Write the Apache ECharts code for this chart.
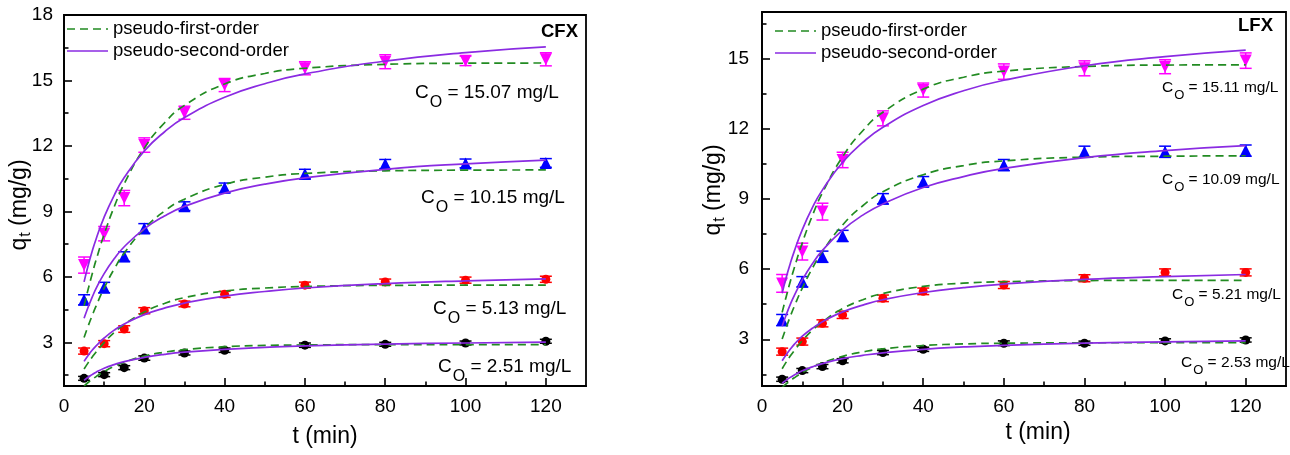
<!DOCTYPE html>
<html>
<head>
<meta charset="utf-8">
<title>Adsorption kinetics of CFX and LFX</title>
<script src="https://cdn.jsdelivr.net/npm/echarts@6/dist/echarts.min.js"></script>
<style>
  html, body { margin: 0; padding: 0; background: #fff; }
  #chart { width: 1290px; height: 455px; }
</style>
</head>
<body>
<div id="chart"></div>
<script>
// ---- sampling times (min) ----
const tExp = [5, 10, 15, 20, 30, 40, 60, 80, 100, 120];
const tFit = [5, 6, 7, 8, 10, 12.5, 15, 20, 25, 30, 40, 50, 60, 80, 100, 120];

// ---- tick labels ----
const xMajor = [0, 20, 40, 60, 80, 100, 120];
const xMinor = [10, 30, 50, 70, 90, 110];
const yMajorCFX = [3, 6, 9, 12, 15, 18];
const yMinorCFX = [1.5, 4.5, 7.5, 10.5, 13.5, 16.5];
const yMajorLFX = [3, 6, 9, 12, 15];
const yMinorLFX = [1.5, 4.5, 7.5, 10.5, 13.5, 16.5];

// ---- CFX measured q_t (mg/g) and standard deviations ----
const cfx1507 = [6.54, 7.98, 9.61, 12.04, 13.52, 14.79, 15.56, 15.86, 15.90, 15.97];
const cfx1507Err = [0.37, 0.33, 0.35, 0.33, 0.30, 0.30, 0.30, 0.32, 0.22, 0.30];
const cfx1015 = [4.95, 5.51, 6.93, 8.22, 9.24, 10.08, 10.71, 11.17, 11.20, 11.22];
const cfx1015Err = [0.23, 0.24, 0.22, 0.22, 0.20, 0.22, 0.22, 0.21, 0.20, 0.20];
const cfx513 = [2.60, 2.94, 3.61, 4.45, 4.76, 5.20, 5.62, 5.77, 5.85, 5.89];
const cfx513Err = [0.14, 0.14, 0.15, 0.14, 0.13, 0.14, 0.14, 0.13, 0.14, 0.14];
const cfx251 = [1.35, 1.52, 1.84, 2.28, 2.51, 2.64, 2.87, 2.91, 2.97, 3.05];
const cfx251Err = [0.09, 0.09, 0.09, 0.10, 0.09, 0.10, 0.10, 0.09, 0.09, 0.09];

// ---- CFX fitted curves ----
const cfx1507PFO = [4.67, 5.42, 6.12, 6.78, 7.95, 9.21, 10.27, 11.90, 13.05, 13.86, 14.84, 15.32, 15.56, 15.74, 15.79, 15.80];
const cfx1507PSO = [5.77, 6.51, 7.16, 7.74, 8.74, 9.74, 10.55, 11.77, 12.64, 13.30, 14.23, 14.85, 15.30, 15.89, 16.28, 16.54];
const cfx1015PFO = [3.22, 3.74, 4.22, 4.67, 5.49, 6.36, 7.09, 8.21, 9.01, 9.56, 10.24, 10.57, 10.74, 10.86, 10.89, 10.90];
const cfx1015PSO = [4.10, 4.61, 5.06, 5.47, 6.15, 6.83, 7.38, 8.20, 8.79, 9.23, 9.84, 10.25, 10.54, 10.93, 11.18, 11.35];
const cfx513PFO = [1.78, 2.06, 2.32, 2.56, 2.99, 3.45, 3.82, 4.39, 4.78, 5.05, 5.35, 5.49, 5.56, 5.61, 5.62, 5.62];
const cfx513PSO = [2.13, 2.40, 2.64, 2.84, 3.20, 3.56, 3.84, 4.27, 4.57, 4.80, 5.12, 5.33, 5.49, 5.69, 5.82, 5.91];
const cfx251PFO = [1.00, 1.16, 1.30, 1.43, 1.66, 1.90, 2.09, 2.37, 2.55, 2.67, 2.80, 2.86, 2.88, 2.90, 2.90, 2.90];
const cfx251PSO = [1.26, 1.40, 1.52, 1.63, 1.81, 1.98, 2.12, 2.31, 2.45, 2.55, 2.68, 2.77, 2.84, 2.92, 2.97, 3.01];

// ---- LFX measured q_t (mg/g) and standard deviations ----
const lfx1511 = [5.39, 6.75, 8.46, 10.67, 12.45, 13.66, 14.45, 14.59, 14.66, 14.92];
const lfx1511Err = [0.38, 0.36, 0.36, 0.33, 0.32, 0.30, 0.33, 0.32, 0.30, 0.33];
const lfx1009 = [3.82, 5.46, 6.53, 7.42, 9.01, 9.74, 10.45, 11.02, 11.02, 11.07];
const lfx1009Err = [0.24, 0.22, 0.24, 0.24, 0.22, 0.22, 0.24, 0.24, 0.24, 0.24];
const lfx521 = [2.47, 2.90, 3.68, 4.04, 4.75, 5.05, 5.32, 5.61, 5.86, 5.86];
const lfx521Err = [0.15, 0.15, 0.15, 0.15, 0.14, 0.14, 0.15, 0.15, 0.15, 0.15];
const lfx253 = [1.29, 1.66, 1.83, 2.08, 2.43, 2.57, 2.83, 2.83, 2.93, 2.97];
const lfx253Err = [0.09, 0.09, 0.09, 0.09, 0.09, 0.09, 0.10, 0.09, 0.09, 0.09];

// ---- LFX fitted curves ----
const lfx1511PFO = [4.15, 4.82, 5.46, 6.05, 7.13, 8.29, 9.27, 10.81, 11.92, 12.71, 13.70, 14.21, 14.47, 14.67, 14.73, 14.74];
const lfx1511PSO = [4.97, 5.64, 6.23, 6.76, 7.69, 8.63, 9.39, 10.57, 11.42, 12.07, 13.00, 13.63, 14.08, 14.70, 15.09, 15.37];
const lfx1009PFO = [3.01, 3.50, 3.97, 4.40, 5.19, 6.04, 6.76, 7.89, 8.71, 9.31, 10.04, 10.43, 10.63, 10.79, 10.83, 10.85];
const lfx1009PSO = [3.56, 4.04, 4.48, 4.87, 5.54, 6.23, 6.80, 7.67, 8.31, 8.79, 9.49, 9.96, 10.31, 10.77, 11.07, 11.28];
const lfx521PFO = [1.74, 2.02, 2.28, 2.51, 2.94, 3.39, 3.75, 4.31, 4.69, 4.96, 5.26, 5.40, 5.46, 5.51, 5.52, 5.52];
const lfx521PSO = [2.08, 2.34, 2.57, 2.78, 3.13, 3.47, 3.75, 4.17, 4.46, 4.69, 5.00, 5.21, 5.36, 5.56, 5.68, 5.77];
const lfx253PFO = [0.94, 1.09, 1.22, 1.35, 1.57, 1.80, 1.99, 2.27, 2.46, 2.59, 2.73, 2.80, 2.83, 2.85, 2.85, 2.85];
const lfx253PSO = [1.12, 1.25, 1.37, 1.47, 1.65, 1.82, 1.96, 2.17, 2.31, 2.42, 2.57, 2.67, 2.74, 2.83, 2.89, 2.93];

// ---- text ----
const PFO = 'pseudo-first-order';
const PSO = 'pseudo-second-order';
const FONT = '"Liberation Sans", Arial, Helvetica, sans-serif';
const COL_PFO = '#228b22';
const COL_PSO = '#8a2be2';
const DASH = [8, 5];
const COL = { mag: '#ff00ff', blue: '#0000ff', red: '#ff0000', black: '#000000' };

const chart = echarts.init(document.getElementById('chart'), null, { renderer: 'canvas' });

function xAxes(grid) {
  const base = {
    gridIndex: grid, type: 'value', min: 0, max: 130, position: 'bottom',
    splitLine: { show: false }
  };
  return [
    Object.assign({}, base, {
      axisLine: { onZero: false, lineStyle: { color: '#000', width: 1.8 } },
      axisTick: { inside: true, length: 8, customValues: xMajor, lineStyle: { color: '#000', width: 1.6 } },
      axisLabel: { customValues: xMajor, color: '#000', fontSize: 19, fontFamily: FONT, margin: 11 }
    }),
    Object.assign({}, base, {
      axisLine: { show: false, onZero: false },
      axisTick: { inside: true, length: 4.5, customValues: xMinor, lineStyle: { color: '#000', width: 1.6 } },
      axisLabel: { show: false }
    })
  ];
}

function yAxes(grid, max, major, minor, margin) {
  const base = {
    gridIndex: grid, type: 'value', min: 1, max: max, position: 'left',
    splitLine: { show: false }
  };
  return [
    Object.assign({}, base, {
      axisLine: { onZero: false, lineStyle: { color: '#000', width: 1.8 } },
      axisTick: { inside: true, length: 8, customValues: major, lineStyle: { color: '#000', width: 1.6 } },
      axisLabel: { customValues: major, color: '#000', fontSize: 19, fontFamily: FONT, margin: margin }
    }),
    Object.assign({}, base, {
      axisLine: { show: false, onZero: false },
      axisTick: { inside: true, length: 4.5, customValues: minor, lineStyle: { color: '#000', width: 1.6 } },
      axisLabel: { show: false }
    })
  ];
}

function fit(name, vals, axis, color, dashed) {
  return {
    type: 'line', name: name, xAxisIndex: axis, yAxisIndex: axis,
    data: tFit.map((t, i) => [t, vals[i]]),
    smooth: true, symbol: 'none', clip: true, z: 5,
    lineStyle: { color: color, width: 1.7, type: dashed ? DASH : 'solid' },
    itemStyle: { color: color }
  };
}

function errorBars(vals, errs, axis, color) {
  return {
    type: 'custom', xAxisIndex: axis, yAxisIndex: axis, z: 3, silent: true,
    data: tExp.map((t, i) => [t, vals[i], errs[i]]),
    encode: { x: 0, y: 1 },
    renderItem: function (params, api) {
      const x = api.value(0), y = api.value(1), e = api.value(2);
      const hi = api.coord([x, y + e]);
      const lo = api.coord([x, y - e]);
      const w = 6;
      const st = { stroke: color, lineWidth: 1.5 };
      return {
        type: 'group',
        children: [
          { type: 'line', shape: { x1: hi[0], y1: hi[1], x2: lo[0], y2: lo[1] }, style: st },
          { type: 'line', shape: { x1: hi[0] - w, y1: hi[1], x2: hi[0] + w, y2: hi[1] }, style: st },
          { type: 'line', shape: { x1: lo[0] - w, y1: lo[1], x2: lo[0] + w, y2: lo[1] }, style: st }
        ]
      };
    }
  };
}

function points(vals, axis, color, symbol, rotate, size) {
  return {
    type: 'scatter', xAxisIndex: axis, yAxisIndex: axis, z: 4, silent: true,
    data: tExp.map((t, i) => [t, vals[i]]),
    symbol: symbol, symbolRotate: rotate, symbolSize: size,
    itemStyle: { color: color, opacity: 1 }
  };
}

function dataset(vals, errs, axis, color, symbol, rotate, size) {
  return [errorBars(vals, errs, axis, color), points(vals, axis, color, symbol, rotate, size)];
}

// legend drawn as two line samples with their captions
function legendBlock(x, y) {
  const row = (dy, color, dash, label) => [
    { type: 'line', z: 10, shape: { x1: x, y1: y + dy, x2: x + 41, y2: y + dy },
      style: { stroke: color, lineWidth: 1.7, lineDash: dash } },
    { type: 'text', z: 10, x: x + 46, y: y + dy,
      style: { text: label, fontSize: 18.5, fontFamily: FONT, fill: '#000', align: 'left', verticalAlign: 'middle' } }
  ];
  return [].concat(row(0, COL_PFO, DASH, PFO), row(22, COL_PSO, null, PSO));
}

// concentration labels with subscript "o"
function conc(x, y, value, big, small, drop) {
  return {
    type: 'text', x: x, y: y, z: 10,
    style: {
      text: '{c|C}{s|O}{c| = ' + value + ' mg/L}',
      verticalAlign: 'middle', align: 'left',
      rich: {
        c: { fontSize: big, fontFamily: FONT, fill: '#000', lineHeight: big + 2 },
        s: { fontSize: small, fontFamily: FONT, fill: '#000', padding: [drop, 0, 0, 1] }
      }
    }
  };
}

function yTitle(x, y) {
  return {
    type: 'text', x: x, y: y, rotation: Math.PI / 2, z: 10,
    style: {
      text: '{q|q}{s|t}{q| (mg/g)}',
      align: 'center', verticalAlign: 'middle',
      rich: {
        q: { fontSize: 23, fontFamily: FONT, fill: '#000', lineHeight: 26 },
        s: { fontSize: 16, fontFamily: FONT, fill: '#000', padding: [12, 0, 0, 1] }
      }
    }
  };
}

function xTitle(x, y) {
  return {
    type: 'text', x: x, y: y, z: 10,
    style: { text: 't (min)', fontSize: 23, fontFamily: FONT, fill: '#000', align: 'center', verticalAlign: 'middle' }
  };
}

const option = {
  animation: false,
  backgroundColor: '#fff',
  grid: [
    { left: 64, top: 15, width: 522, height: 371, show: true, borderColor: '#000', borderWidth: 1.8, backgroundColor: 'transparent' },
    { left: 762, top: 12, width: 524, height: 374, show: true, borderColor: '#000', borderWidth: 1.8, backgroundColor: 'transparent' }
  ],
  xAxis: [].concat(xAxes(0), xAxes(1)),
  yAxis: [].concat(
    yAxes(0, 18, yMajorCFX, yMinorCFX, 11),
    yAxes(2, 17, yMajorLFX, yMinorLFX, 13)
  ).map((a, i) => Object.assign(a, { gridIndex: i < 2 ? 0 : 1 })),
  graphic: [].concat(
    legendBlock(67, 29),
    legendBlock(775, 31),
    [
      { type: 'text', x: 578, y: 32, z: 10, style: { text: 'CFX', fontSize: 18.5, fontWeight: 'bold', fontFamily: FONT, fill: '#000', align: 'right', verticalAlign: 'middle' } },
      { type: 'text', x: 1273, y: 26, z: 10, style: { text: 'LFX', fontSize: 18.5, fontWeight: 'bold', fontFamily: FONT, fill: '#000', align: 'right', verticalAlign: 'middle' } },
      conc(415, 93, '15.07', 19, 16, 20),
      conc(421, 198, '10.15', 19, 16, 20),
      conc(433, 309, '5.13', 19, 16, 20),
      conc(438, 367, '2.51', 19, 16, 20),
      conc(1162, 88, '15.11', 15.5, 13, 15),
      conc(1162, 180, '10.09', 15.5, 13, 15),
      conc(1172, 295, '5.21', 15.5, 13, 15),
      conc(1181, 363, '2.53', 15.5, 13, 15),
      yTitle(20, 205),
      yTitle(714, 190),
      xTitle(325, 437),
      xTitle(1038, 433)
    ]
  ),
  series: [].concat(
    // CFX
    dataset(cfx1507, cfx1507Err, 0, COL.mag, 'triangle', 180, 12),
    dataset(cfx1015, cfx1015Err, 0, COL.blue, 'triangle', 0, 12),
    dataset(cfx513, cfx513Err, 0, COL.red, 'circle', 0, 9),
    dataset(cfx251, cfx251Err, 0, COL.black, 'circle', 0, 9),
    [
      fit(PFO, cfx1507PFO, 0, COL_PFO, true),
      fit(PFO, cfx1015PFO, 0, COL_PFO, true),
      fit(PFO, cfx513PFO, 0, COL_PFO, true),
      fit(PFO, cfx251PFO, 0, COL_PFO, true),
      fit(PSO, cfx1507PSO, 0, COL_PSO, false),
      fit(PSO, cfx1015PSO, 0, COL_PSO, false),
      fit(PSO, cfx513PSO, 0, COL_PSO, false),
      fit(PSO, cfx251PSO, 0, COL_PSO, false)
    ],
    // LFX
    dataset(lfx1511, lfx1511Err, 2, COL.mag, 'triangle', 180, 12),
    dataset(lfx1009, lfx1009Err, 2, COL.blue, 'triangle', 0, 12),
    dataset(lfx521, lfx521Err, 2, COL.red, 'circle', 0, 9),
    dataset(lfx253, lfx253Err, 2, COL.black, 'circle', 0, 9),
    [
      fit(PFO, lfx1511PFO, 2, COL_PFO, true),
      fit(PFO, lfx1009PFO, 2, COL_PFO, true),
      fit(PFO, lfx521PFO, 2, COL_PFO, true),
      fit(PFO, lfx253PFO, 2, COL_PFO, true),
      fit(PSO, lfx1511PSO, 2, COL_PSO, false),
      fit(PSO, lfx1009PSO, 2, COL_PSO, false),
      fit(PSO, lfx521PSO, 2, COL_PSO, false),
      fit(PSO, lfx253PSO, 2, COL_PSO, false)
    ]
  )
};

chart.setOption(option);
</script>
</body>
</html>
